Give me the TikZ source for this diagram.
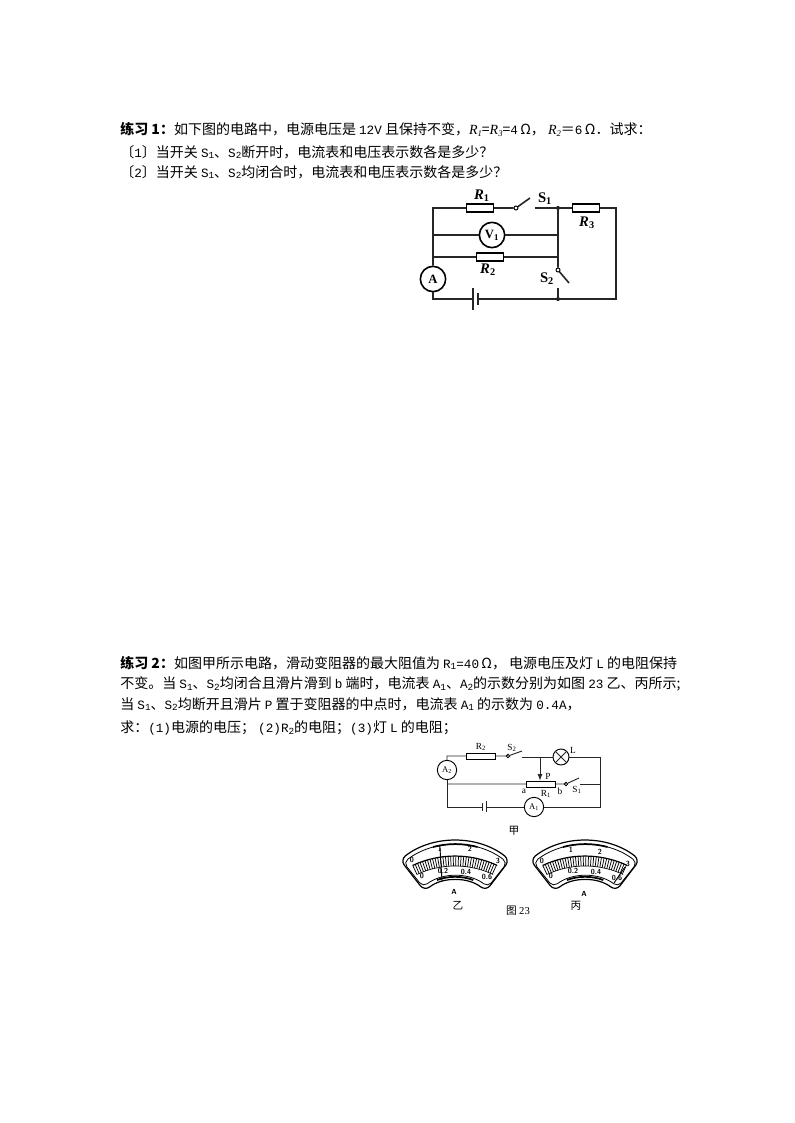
\documentclass[tikz,border=0pt]{standalone}
\usepackage{fontspec}
\setmainfont{Liberation Serif}
\newfontfamily\cjk{Noto Sans CJK SC}
\newfontfamily\halfwidth{Liberation Mono}
\usetikzlibrary{shapes,arrows}

\newcommand{\hw}[1]{{\halfwidth\fontsize{9.5}{10}\selectfont #1}}
\newcommand{\hs}[1]{{\halfwidth\fontsize{7}{8}\selectfont\raisebox{-.3ex}{#1}}}
\newcommand{\itr}[1]{{\rmfamily\itshape R\raisebox{-.3ex}{\fontsize{6.5}{8}\selectfont #1}}}

\tikzset{
    textline/.style = {anchor=west, inner sep=0pt, font=\cjk\fontsize{10.5}{12}\selectfont},
    wire/.style = {line width=1.2pt, black!85},
    thinwire/.style = {line width=.7pt, black!85},
    resbox/.style = {draw, line width=1pt, minimum width=20pt, minimum height=6pt, inner sep=0pt},
    rheobox/.style = {draw, line width=.7pt, minimum width=22pt, minimum height=4.5pt, inner sep=0pt},
    meterbig/.style = {draw, circle, line width=1.2pt, minimum size=19pt, inner sep=0pt, font=\bfseries\fontsize{9.5}{9}\selectfont},
    metersmall/.style = {draw, circle, line width=.7pt, minimum size=14.5pt, inner sep=0pt, font=\fontsize{6.5}{6}\selectfont},
    joint/.style = {circle, fill=black, inner sep=0pt, minimum size=3pt},
    pivot/.style = {draw, circle, fill=white, line width=.7pt, inner sep=0pt, minimum size=3pt},
    biglabel/.style = {inner sep=0pt, font=\bfseries\fontsize{11}{11}\selectfont},
    smalllabel/.style = {inner sep=0pt, font=\fontsize{7}{7}\selectfont},
    scalelabel/.style = {inner sep=0pt, font=\sffamily\bfseries\fontsize{5.5}{6}\selectfont},
    cjklabel/.style = {inner sep=0pt, font=\cjk\fontsize{8}{8}\selectfont},
}

% one ammeter dial: centre x
\newcommand{\dial}[1]{
  \begin{scope}[shift={(#1,930)}]
    \draw[line width=.9pt, rounded corners=5] (-54.8,-70.1) arc (-128:-52:89) -- (31,-39) arc (-52:-128:50) -- cycle;
    \draw[line width=.6pt, rounded corners=4] (-51.5,-67.5) arc (-127.4:-52.6:85.5) -- (33,-43) arc (-52.6:-127.4:53.5) -- cycle;
    \draw[line width=1.3pt] (-22,-83) arc (-105:-75:86);
    \draw[line width=1.3pt] (-18,-50) arc (-110:-70:53);
  \end{scope}
  \begin{scope}[shift={(#1,956)}]
    \foreach \a in {-25,-23.5,...,25}
      \draw[line width=.55pt] ({90*sin(\a)},{-90*cos(\a)}) -- ({100*sin(\a)},{-100*cos(\a)});
    \draw[line width=.9pt] (-42.3,-90.6) arc (-115:-65:100);
    \draw[line width=.5pt] (-38,-81.6) arc (-115:-65:90);
  \end{scope}
}

\begin{document}
\begin{tikzpicture}[x=.75pt, y=-.75pt]%
    \useasboundingbox (0,0) rectangle (794,1123);

    % first exercise
    \node [textline] (ta) at (120,129) {\textbf{练习 1：}如下图的电路中，电源电压是 \hw{12V} 且保持不变，\itr{1}=\itr{3}=\hw{4}\,Ω， \itr{2}＝\hw{6}\,Ω．试求：};
    \node [textline] (tb) at (120,152) {〔\hw{1}〕当开关 \hw{S}\hs{1}、\hw{S}\hs{2}断开时，电流表和电压表示数各是多少？};
    \node [textline] (tc) at (120,172) {〔\hw{2}〕当开关 \hw{S}\hs{1}、\hw{S}\hs{2}均闭合时，电流表和电压表示数各是多少？};

    % first circuit
    \coordinate (tl) at (433,208);
    \coordinate (jt) at (558,208);
    \coordinate (tr) at (616,208);
    \coordinate (br) at (616,299);
    \coordinate (jb) at (558,299);
    \coordinate (bl) at (433,299);
    \coordinate (vl) at (433,235);
    \coordinate (vr) at (558,235);
    \coordinate (rl) at (433,257);
    \coordinate (rr) at (558,257);
    \coordinate (sa) at (530,198);
    \coordinate (sb) at (535,208);
    \coordinate (sc) at (569,283);
    \coordinate (sd) at (558,288);
    \coordinate (batl) at (473,299);
    \coordinate (batr) at (478,299);
    \coordinate (batla) at (473,288);
    \coordinate (batlb) at (473,310);
    \coordinate (batra) at (478,293);
    \coordinate (batrb) at (478,305);
    \draw node [resbox] (R1) at (480,208) {};
    \draw node [resbox] (R2) at (490,257) {};
    \draw node [resbox] (R3) at (586,208) {};
    \draw node [meterbig] (V) at (492,235) {V\textsubscript{1}};
    \draw node [meterbig] (A) at (433,279) {A};
    \draw node [pivot] (swa) at (516,208) {};
    \draw node [pivot] (swb) at (558,270) {};
    \draw node [joint] (dt) at (jt) {};
    \draw node [joint] (db) at (jb) {};
    \draw[wire] (A) -- (tl) -- (R1) -- (swa) -- (sa);
    \draw[wire] (sb) -- (jt) -- (R3) -- (tr) -- (br) -- (jb) -- (sd);
    \draw[wire] (jt) -- (swb) -- (sc);
    \draw[wire] (vl) -- (V) -- (vr);
    \draw[wire] (rl) -- (R2) -- (rr);
    \draw[wire] (jb) -- (batr);
    \draw[wire] (batl) -- (bl) -- (A);
    \draw[wire] (batla) -- (batlb);
    \draw[wire] (batra) -- (batrb);
    \node [biglabel] (lra) at (482,196) {\textit{R}\textsubscript{1}};
    \node [biglabel] (lsa) at (545,199) {S\textsubscript{1}};
    \node [biglabel] (lrc) at (587,223) {\textit{R}\textsubscript{3}};
    \node [biglabel] (lrb) at (488,270) {\textit{R}\textsubscript{2}};
    \node [biglabel] (lsb) at (547,279) {S\textsubscript{2}};

    % second exercise
    \node [textline] (td) at (120,663) {\textbf{练习 2：}如图甲所示电路，滑动变阻器的最大阻值为 \hw{R}\hs{1}\hw{=40}\,Ω， 电源电压及灯 \hw{L} 的电阻保持};
    \node [textline] (te) at (120,684) {不变。当 \hw{S}\hs{1}、\hw{S}\hs{2}均闭合且滑片滑到 \hw{b} 端时，电流表 \hw{A}\hs{1}、\hw{A}\hs{2}的示数分别为如图 \hw{23} 乙、丙所示;};
    \node [textline] (tf) at (120,704) {当 \hw{S}\hs{1}、\hw{S}\hs{2}均断开且滑片 \hw{P} 置于变阻器的中点时，电流表 \hw{A}\hs{1} 的示数为 \hw{0.4A}，};
    \node [textline] (tg) at (120,728) {求：\hw{(1)}电源的电压； \hw{(2)R}\hs{2}的电阻；\hw{(3)}灯 \hw{L} 的电阻；};

    % second circuit
    \coordinate (ctl) at (447,756);
    \coordinate (ctr) at (600,757);
    \coordinate (cmr) at (600,784);
    \coordinate (cbr) at (600,807);
    \coordinate (cml) at (447,784);
    \coordinate (cbl) at (447,807);
    \coordinate (cp) at (540,757);
    \coordinate (csa) at (522,751);
    \coordinate (csb) at (522,757);
    \coordinate (csc) at (579,778);
    \coordinate (csd) at (580,784);
    \coordinate (cbatl) at (482,807);
    \coordinate (cbatr) at (486,807);
    \coordinate (cbatla) at (482,803);
    \coordinate (cbatlb) at (482,811);
    \coordinate (cbatra) at (486,801);
    \coordinate (cbatrb) at (486,812);
    \draw node [rheobox] (Rb) at (481,756) {};
    \draw node [rheobox] (Rh) at (541,784) {};
    \draw node [metersmall] (Ab) at (447,770) {A\textsubscript{2}};
    \draw node [metersmall] (Aa) at (534,807) {A\textsubscript{1}};
    \draw node [draw, circle, line width=.7pt, minimum size=12pt, inner sep=0pt] (lamp) at (561,757) {};
    \draw[thinwire] (lamp.north west) -- (lamp.south east) (lamp.north east) -- (lamp.south west);
    \draw node [pivot, minimum size=2.5pt] (swc) at (508,756) {};
    \draw node [pivot, minimum size=2.5pt] (swd) at (566,784) {};
    \draw[thinwire] (Ab) -- (ctl) -- (Rb) -- (swc) -- (csa);
    \draw[thinwire] (csb) -- (lamp) -- (ctr) -- (cbr) -- (Aa) -- (cbatr);
    \draw[thinwire] (cbatl) -- (cbl) -- (Ab);
    \draw[thinwire] (cml) -- (Rh) -- (swd) -- (csc);
    \draw[thinwire] (csd) -- (cmr);
    \draw[thinwire] (cbatla) -- (cbatlb);
    \draw[thinwire] (cbatra) -- (cbatrb);
    \draw[thinwire, -latex] (cp) -- (Rh.north -| cp);
    \node [smalllabel] (lrd) at (481,747) {R\textsubscript{2}};
    \node [smalllabel] (lsc) at (512,748) {S\textsubscript{2}};
    \node [smalllabel] (ll) at (573,750) {L};
    \node [smalllabel] (lp) at (548,776) {P};
    \node [smalllabel] (la) at (524,791) {a};
    \node [smalllabel] (lre) at (546,794) {R\textsubscript{1}};
    \node [smalllabel] (lb) at (560,791) {b};
    \node [smalllabel] (lsd) at (577,790) {S\textsubscript{1}};
    \node [cjklabel] (ljia) at (514,831) {甲};

    % dials
    \dial{455}
    \dial{585}
    \coordinate (na) at (442,881);
    \coordinate (nb) at (440,848);
    \coordinate (nc) at (614,883);
    \coordinate (nd) at (625,867);
    \draw[line width=.7pt] (na) -- (nb);
    \draw[line width=.7pt] (nc) -- (nd);
    \node [scalelabel] (ya) at (412,860) {0};
    \node [scalelabel] (yb) at (440,849) {1};
    \node [scalelabel] (yc) at (470,849) {2};
    \node [scalelabel] (yd) at (498,861) {3};
    \node [scalelabel] (ye) at (422,876) {0};
    \node [scalelabel] (yf) at (443,871) {0.2};
    \node [scalelabel] (yg) at (466,872) {0.4};
    \node [scalelabel] (yh) at (487,877) {0.6};
    \node [scalelabel] (ba) at (542,861) {0};
    \node [scalelabel] (bb) at (571,850) {1};
    \node [scalelabel] (bc) at (600,852) {2};
    \node [scalelabel] (bd) at (628,864) {3};
    \node [scalelabel] (be) at (551,876) {0};
    \node [scalelabel] (bf) at (573,871) {0.2};
    \node [scalelabel] (bg) at (596,872) {0.4};
    \node [scalelabel] (bh) at (617,878) {0.6};
    \node [scalelabel] (yu) at (454,892) {A};
    \node [scalelabel] (bu) at (584,894) {A};
    \node [cjklabel] (lyi) at (458,906) {乙};
    \node [cjklabel] (lbing) at (576,906) {丙};
    \node [cjklabel] (lfig) at (518,911) {图 {\rmfamily 23}};
\end{tikzpicture}
\end{document}
